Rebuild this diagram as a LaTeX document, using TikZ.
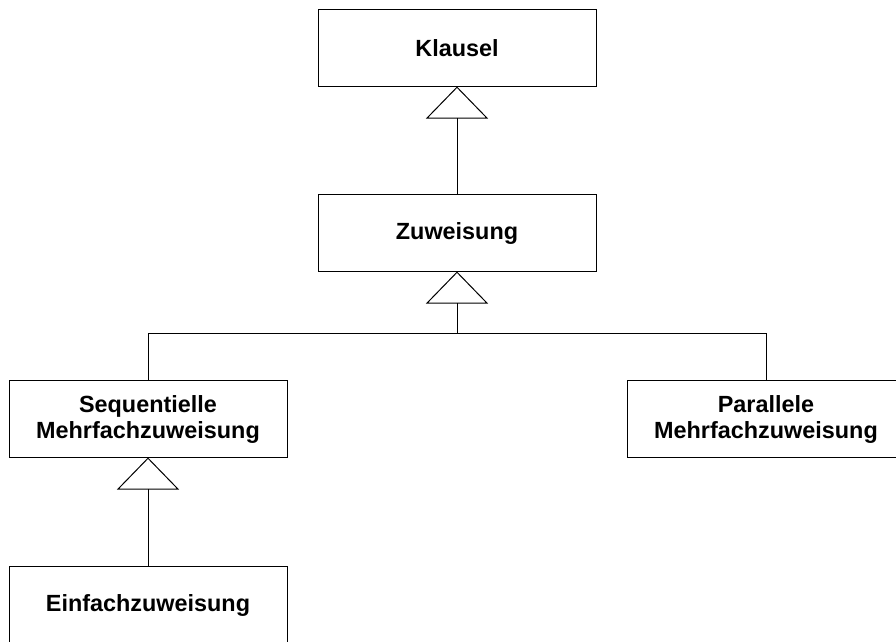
\documentclass[tikz,border=0pt]{standalone}
\usepackage{fontspec}
\setmainfont{Liberation Sans}
\usepackage{tikz}
\usetikzlibrary{arrows.meta,positioning}
\tikzset{>={Triangle[open,width=62pt,length=32pt]},
	every picture/.append style={line width=1pt}}
\begin{document}
\begin{tikzpicture}[x=1pt,y=1pt]
	\tikzset{block/.style= { draw, rectangle, align=center, inner sep=0pt, outer sep=0pt, minimum width=278pt, minimum height=77pt,
			font=\fontsize{23.4}{26}\selectfont\bfseries},
		inherit/.style={->, draw=black},
	}
	\path[use as bounding box, clip] (0,0) rectangle (896,-641);
	\node [block] at (457,-48) (klausel) {Klausel};
	\node [block, below = 108pt of klausel] (zuw) {Zuweisung};
	\node [block, below left = 109pt and 31pt of zuw] (seq) {Sequentielle\\Mehrfachzuweisung};
	\node [block, below right = 109pt and 31pt of zuw] (par) {Parallele\\Mehrfachzuweisung};
	\node [block, below = 109pt of seq] (einf) {Einfachzuweisung};
	\coordinate [below = 62pt of zuw.south] (branch);
	\draw [inherit] (zuw.north) -- (klausel.south);
	\draw [inherit] (branch) -- (zuw.south);
	\draw (seq.north) |- (branch) -| (par.north);
	\draw [inherit] (einf.north) -- (seq.south);
\end{tikzpicture}
\end{document}
